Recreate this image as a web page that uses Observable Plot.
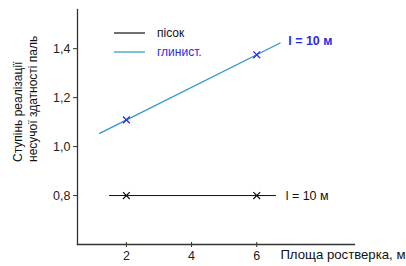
<!DOCTYPE html>
<html><head><meta charset="utf-8">
<script src="https://cdn.jsdelivr.net/npm/d3@7"></script>
<script src="https://cdn.jsdelivr.net/npm/@observablehq/plot@0.6"></script>
<style>
body{margin:0;background:#fff;}
svg{font-family:"Liberation Sans",Arial,sans-serif;}
</style></head><body><div id="chart"></div>
<script>
const xTicks = [2, 4, 6];
const yTicks = [0.8, 1.0, 1.2, 1.4];
const seriesNames = ["пісок", "глинист."];
const sandPointsX = [2, 6];
const sandPointsY = [0.8, 0.8];
const sandLineX = [1.48, 6.58];
const sandLineY = [0.8, 0.8];
const clayPointsX = [2, 6];
const clayPointsY = [1.109, 1.375];
const clayLineX = [1.18, 6.72];
const clayLineY = [1.054, 1.423];
const lengthLabel = "l = 10 м";
const xLabel = "Площа ростверка, м";
const yLabel = ["Ступінь реалізації", "несучої здатності паль"];

const pts = (xs, ys) => xs.map((x, i) => ({x, y: ys[i]}));
const sandPts = pts(sandPointsX, sandPointsY), sandLine = pts(sandLineX, sandLineY);
const clayPts = pts(clayPointsX, clayPointsY), clayLine = pts(clayLineX, clayLineY);
const fmt = d => d.toFixed(1).replace(".", ",");
const axisColor = "#333";
const lineBlue = "#2a95cc", markBlue = "#2b2be6";

const plot = Plot.plot({
  width: 406, height: 266,
  marginLeft: 77, marginTop: 9, marginBottom: 22, marginRight: 52,
  style: {fontFamily: "Liberation Sans, Arial, sans-serif", fontSize: "12px", color: "#222", background: "#fff"},
  x: {domain: [0.5, 9]},
  y: {domain: [0.6, 1.56]},
  marks: [
    Plot.axisX(xTicks, {tickSize: 3, tickPadding: 4, label: null, stroke: axisColor, fontSize: 12.5}),
    Plot.axisX(xTicks, {tickSize: -2, tickFormat: () => "", label: null, stroke: axisColor}),
    Plot.axisY(yTicks, {tickSize: 4, tickPadding: 3, tickFormat: fmt, label: null, stroke: axisColor, fontSize: 12.5}),
    Plot.axisY(yTicks, {tickSize: -1, tickFormat: () => "", label: null, stroke: axisColor}),
    Plot.frame({anchor: "left", stroke: axisColor, strokeWidth: 1.3}),
    Plot.frame({anchor: "bottom", stroke: axisColor, strokeWidth: 1.3}),
    Plot.line(sandLine, {x: "x", y: "y", stroke: "#111", strokeWidth: 1}),
    Plot.line(clayLine, {x: "x", y: "y", stroke: lineBlue, strokeWidth: 1.2}),
    Plot.dot(sandPts, {x: "x", y: "y", symbol: "times", r: 3.2, stroke: "#111", strokeWidth: 1.2}),
    Plot.dot(clayPts, {x: "x", y: "y", symbol: "times", r: 3.2, stroke: markBlue, strokeWidth: 1.3}),
    Plot.text([clayLine[1]], {x: "x", y: "y", text: () => lengthLabel, dx: 8, dy: -2, textAnchor: "start", fill: markBlue, fontWeight: "bold", fontSize: 12.5}),
    Plot.text([sandLine[1]], {x: "x", y: "y", text: () => lengthLabel, dx: 10, dy: 0, textAnchor: "start", fill: "#111", fontSize: 12.5}),
    Plot.text([xLabel], {frameAnchor: "bottom-right", textAnchor: "end", dx: 51, dy: 14, fill: "#111", fontSize: 13.2}),
    Plot.text([yLabel[0]], {frameAnchor: "left", textAnchor: "start", rotate: -90, dx: -59, dy: 35, fill: "#111", fontSize: 12}),
    Plot.text([yLabel[1]], {frameAnchor: "left", textAnchor: "start", rotate: -90, dx: -44, dy: 35, fill: "#111", fontSize: 12})
  ]
});

// legend
const svg = d3.select(plot);
const legendColors = ["#111", lineBlue];
const legendText = ["#111", markBlue];
seriesNames.forEach((name, i) => {
  const y = 33 + i * 19;
  svg.append("line").attr("x1", 114).attr("x2", 145).attr("y1", y).attr("y2", y)
    .attr("stroke", legendColors[i]).attr("stroke-width", 1.2);
  svg.append("text").attr("x", 157).attr("y", y).attr("dy", "0.35em")
    .attr("text-anchor", "start").attr("fill", legendText[i]).attr("font-size", 12).text(name);
});
document.getElementById("chart").appendChild(plot);
</script></body></html>
